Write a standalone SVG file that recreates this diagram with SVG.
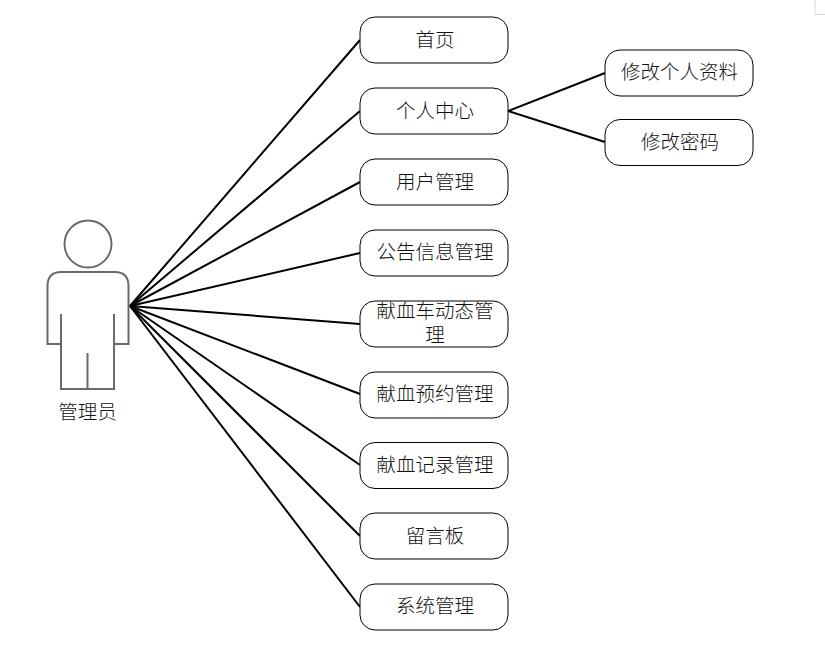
<svg xmlns="http://www.w3.org/2000/svg" width="825" height="647" viewBox="0 0 825 647">
<style>
.box{fill:#fff;stroke:#000;stroke-width:1}
.lbl{font-family:"Noto Sans CJK SC","Noto Sans CJK JP",sans-serif;font-size:19.5px;font-weight:300;fill:#111;text-anchor:middle}
.conn{stroke:#000;stroke-width:2;fill:none}
.person{fill:none;stroke:#6a6a6a;stroke-width:2}
</style>
<rect width="825" height="647" fill="#fff"/>
<path d="M815 0V14.500H825" fill="none" stroke="#d8d8d8"/>
<g id="connectors">
<path class="conn" d="M130 306L360 40"/>
<path class="conn" d="M130 306L360 111"/>
<path class="conn" d="M130 306L360 182"/>
<path class="conn" d="M130 306L360 253"/>
<path class="conn" d="M130 306L360 324"/>
<path class="conn" d="M130 306L360 394"/>
<path class="conn" d="M130 306L360 465"/>
<path class="conn" d="M130 306L360 536"/>
<path class="conn" d="M130 306L360 607"/>
<path class="conn" d="M508 111L605 73"/>
<path class="conn" d="M508 111L605 142"/>
</g>
<g id="actor">
<circle class="person" cx="88" cy="244" r="23.500"/>
<path class="person" d="M61 314V344H47.500V286Q47.500 272 61.500 272H114.500Q128.500 272 128.500 286V344H114V314M114 344V389H61V344M87.500 353V389"/>
<text class="lbl" x="87.500" y="419">管理员</text>
</g>
<g id="n1"><rect class="box" x="360" y="17" width="148" height="46" rx="15"/><text class="lbl" x="435" y="46.500">首页</text></g>
<g id="n2"><rect class="box" x="360" y="88" width="148" height="46" rx="15"/><text class="lbl" x="435" y="117.500">个人中心</text></g>
<g id="n3"><rect class="box" x="360" y="159" width="148" height="46" rx="15"/><text class="lbl" x="435" y="188.500">用户管理</text></g>
<g id="n4"><rect class="box" x="360" y="230" width="148" height="46" rx="15"/><text class="lbl" x="435" y="259">公告信息管理</text></g>
<g id="n5"><rect class="box" x="360" y="301" width="148" height="46" rx="15"/><text class="lbl" x="435" y="318">献血车动态管</text><text class="lbl" x="435" y="342">理</text></g>
<g id="n6"><rect class="box" x="360" y="372" width="148" height="46" rx="15"/><text class="lbl" x="435" y="401">献血预约管理</text></g>
<g id="n7"><rect class="box" x="360" y="442.500" width="148" height="46" rx="15"/><text class="lbl" x="435" y="471.500">献血记录管理</text></g>
<g id="n8"><rect class="box" x="360" y="513" width="148" height="46" rx="15"/><text class="lbl" x="435" y="542.500">留言板</text></g>
<g id="n9"><rect class="box" x="360" y="584" width="148" height="46" rx="15"/><text class="lbl" x="435" y="612.500">系统管理</text></g>
<g id="n10"><rect class="box" x="605" y="50" width="148" height="46" rx="15"/><text class="lbl" x="679.500" y="79">修改个人资料</text></g>
<g id="n11"><rect class="box" x="605" y="119.500" width="148" height="46" rx="15"/><text class="lbl" x="680" y="149">修改密码</text></g>
</svg>
